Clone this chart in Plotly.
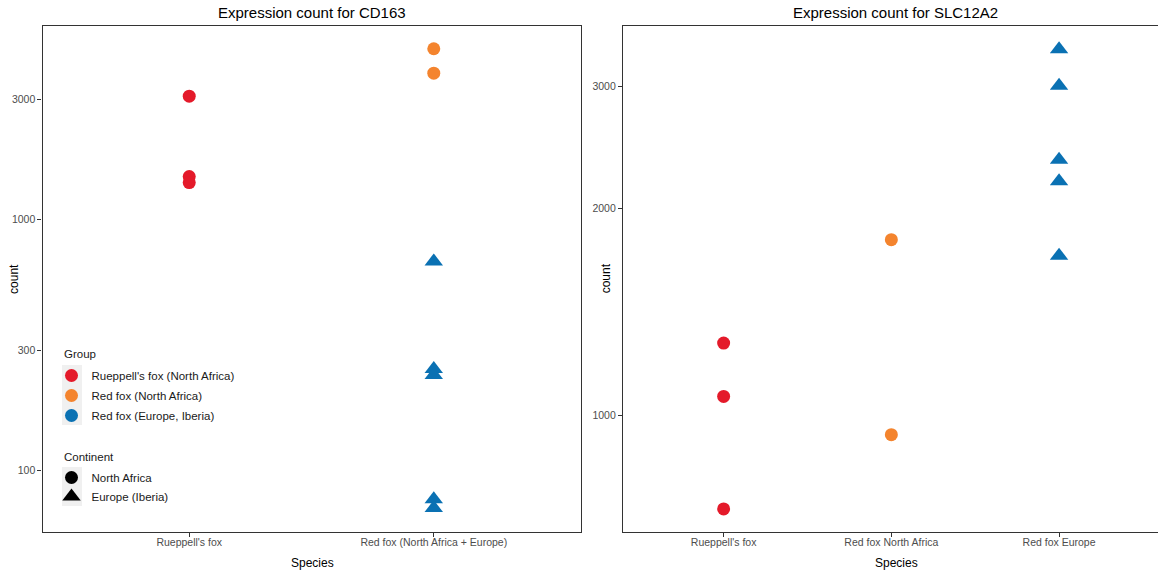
import plotly.graph_objects as go

# ---- CD163 expression counts ----
cd163_categories = ["Rueppell's fox", "Red fox (North Africa + Europe)"]
cd163_rueppell = [3090, 1479, 1400]
cd163_red_na = [4770, 3814]
cd163_red_eu = [680, 254, 240, 77, 71]
cd163_ticks = [100, 300, 1000, 3000]

# ---- SLC12A2 expression counts ----
slc_categories = ["Rueppell's fox", "Red fox North Africa", "Red fox Europe"]
slc_rueppell = [1274, 1066, 732]
slc_red_na = [1800, 938]
slc_red_eu = [3400, 3010, 2350, 2188, 1706]
slc_ticks = [1000, 2000, 3000]

group_names = ["Rueppell's fox (North Africa)", "Red fox (North Africa)", "Red fox (Europe, Iberia)"]
group_colors = ["#E41A2A", "#F4842E", "#0A71B3"]
continent_names = ["North Africa", "Europe (Iberia)"]
continent_symbols = ["circle", "triangle-up"]

FONT = "Liberation Sans, Arial, Helvetica, sans-serif"
W, H = 1158, 576


def px_x(p):
    return p / W


def px_y(p):
    return 1 - p / H


fig = go.Figure()

circle_size = 13
tri_size = 16

# left panel points
left_sets = [
    (cd163_categories[0], cd163_rueppell, 0, "circle"),
    (cd163_categories[1], cd163_red_na, 1, "circle"),
    (cd163_categories[1], cd163_red_eu, 2, "triangle-up"),
]
for cat, vals, gi, sym in left_sets:
    fig.add_trace(go.Scatter(
        x=[cat] * len(vals), y=vals, mode="markers", xaxis="x", yaxis="y",
        marker=dict(color=group_colors[gi], symbol=sym,
                    size=circle_size if sym == "circle" else tri_size, line=dict(width=0)),
        showlegend=False, hoverinfo="x+y"))

# right panel points
right_sets = [
    (slc_categories[0], slc_rueppell, 0, "circle"),
    (slc_categories[1], slc_red_na, 1, "circle"),
    (slc_categories[2], slc_red_eu, 2, "triangle-up"),
]
for cat, vals, gi, sym in right_sets:
    fig.add_trace(go.Scatter(
        x=[cat] * len(vals), y=vals, mode="markers", xaxis="x2", yaxis="y2",
        marker=dict(color=group_colors[gi], symbol=sym,
                    size=circle_size if sym == "circle" else tri_size, line=dict(width=0)),
        showlegend=False, hoverinfo="x+y"))

# legend entries: colour by group, shape by continent
for name, col in zip(group_names, group_colors):
    fig.add_trace(go.Scatter(
        x=[None], y=[None], mode="markers", xaxis="x", yaxis="y", name=name,
        legend="legend", legendgroup=name,
        marker=dict(color=col, symbol="circle", size=circle_size, line=dict(width=0))))
for name, sym in zip(continent_names, continent_symbols):
    fig.add_trace(go.Scatter(
        x=[None], y=[None], mode="markers", xaxis="x", yaxis="y", name=name,
        legend="legend2", legendgroup=name,
        marker=dict(color="black", symbol=sym,
                    size=circle_size if sym == "circle" else tri_size, line=dict(width=0))))

line_col = "#333333"
tick_font = dict(family=FONT, size=10.5, color="#4d4d4d")
common_axis = dict(showline=True, linecolor=line_col, linewidth=1.3, ticks="outside",
                   ticklen=4, tickcolor=line_col, tickwidth=1, showgrid=False,
                   zeroline=False, tickfont=tick_font)

y_dom = [px_y(532), px_y(25.5)]
legend_font = dict(family=FONT, size=11.5, color="#1a1a1a")

fig.update_layout(
    width=W, height=H,
    margin=dict(l=0, r=0, t=0, b=0),
    paper_bgcolor="white", plot_bgcolor="white",
    font=dict(family=FONT, color="black"),
    xaxis=dict(domain=[px_x(42.5), px_x(580.5)], type="category",
               categoryorder="array", categoryarray=cd163_categories,
               range=[-0.6, 1.6], mirror=True, anchor="y", ticklabelstandoff=-4,
               **common_axis),
    yaxis=dict(domain=y_dom, type="log", range=[1.756, 3.771], mirror=True,
               tickvals=cd163_ticks, ticktext=[str(v) for v in cd163_ticks],
               anchor="x", **common_axis),
    xaxis2=dict(domain=[px_x(623), 1.0], type="category",
                categoryorder="array", categoryarray=slc_categories,
                range=[-0.6, 2.59], mirror=True, anchor="y2", ticklabelstandoff=-4,
                **common_axis),
    yaxis2=dict(domain=y_dom, type="log", range=[2.831, 3.566], mirror=False,
                tickvals=slc_ticks, ticktext=[str(v) for v in slc_ticks],
                anchor="x2", **common_axis),
    legend=dict(x=px_x(51.5), y=px_y(361), xanchor="left", yanchor="top",
                bgcolor="rgba(0,0,0,0)", borderwidth=0, tracegroupgap=1,
                itemsizing="trace", font=legend_font),
    legend2=dict(x=px_x(51.5), y=px_y(463), xanchor="left", yanchor="top",
                 bgcolor="rgba(0,0,0,0)", borderwidth=0, tracegroupgap=0,
                 itemsizing="trace", font=legend_font),
)

# grey key backgrounds behind the legend symbols
key_bg = "#F0F0F0"
for y0, y1 in [(365, 425), (467, 506)]:
    fig.add_shape(type="rect", xref="paper", yref="paper",
                  x0=px_x(62), x1=px_x(82), y0=px_y(y1), y1=px_y(y0),
                  fillcolor=key_bg, line=dict(width=0), layer="above")

title_font = dict(family=FONT, size=15, color="black")
lab_font = dict(family=FONT, size=12, color="black")
ann = [
    dict(text="Expression count for CD163", x=px_x(311.5), y=px_y(12.3), font=title_font),
    dict(text="Expression count for SLC12A2", x=px_x(895), y=px_y(12.3), font=title_font),
    dict(text="count", x=px_x(13.4), y=px_y(278.5), font=lab_font, textangle=-90),
    dict(text="count", x=px_x(605.8), y=px_y(278.5), font=lab_font, textangle=-90),
    dict(text="Species", x=px_x(312.5), y=px_y(563), font=lab_font),
    dict(text="Species", x=px_x(896), y=px_y(563), font=lab_font),
]
for a in ann:
    fig.add_annotation(xref="paper", yref="paper", xanchor="center", yanchor="middle",
                       showarrow=False, **a)

# legend titles
for text, ypix in [("Group", 354), ("Continent", 456.7)]:
    fig.add_annotation(xref="paper", yref="paper", xanchor="left", yanchor="middle",
                       x=px_x(62), y=px_y(ypix), text=text, showarrow=False,
                       font=legend_font)

fig.write_html("out.html")
